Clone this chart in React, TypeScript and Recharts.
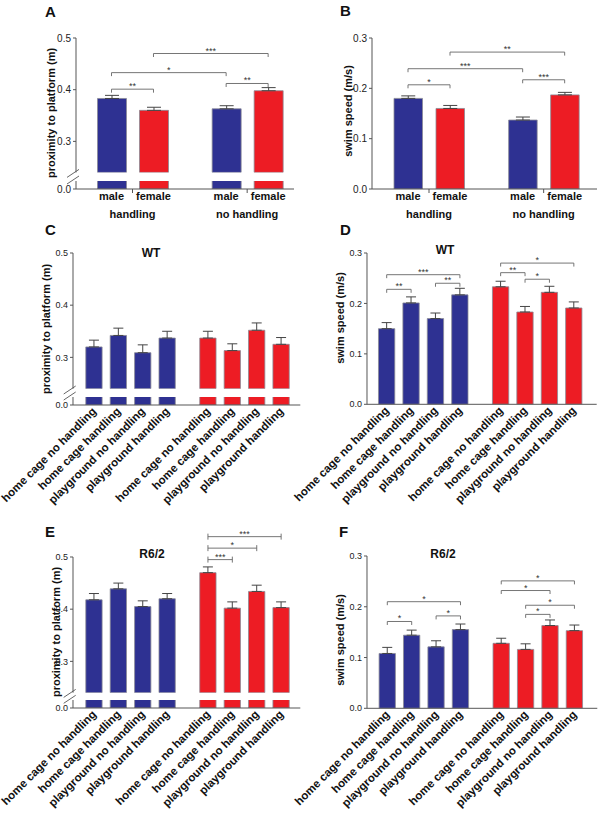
import React from 'react';
import { BarChart, Bar, XAxis, YAxis, ErrorBar, ReferenceLine, Cell } from 'recharts';

const BLUE = '#2e3192';
const RED = '#ed1c24';
const AXIS = '#555';
const FONT = '"Liberation Sans", Arial, Helvetica, sans-serif';

// panels A and B
const sexNames = ['male', 'female', 'male', 'female'];
const handlingGroups = ['handling', 'no handling'];
const sexColors = [BLUE, RED, BLUE, RED];
const proxSex = [0.383, 0.36, 0.363, 0.398];
const proxSexErr = [0.006, 0.006, 0.006, 0.006];
const speedSex = [0.18, 0.16, 0.137, 0.187];
const speedSexErr = [0.005, 0.006, 0.006, 0.005];

// panels C-F
const housing = ['home cage no handling', 'home cage handling', 'playground no handling', 'playground handling'];
const housingNames = [...housing, ...housing];
const housingColors = [BLUE, BLUE, BLUE, BLUE, RED, RED, RED, RED];
const proxWT = [0.32, 0.342, 0.309, 0.337, 0.337, 0.313, 0.352, 0.325];
const proxWTErr = [0.013, 0.014, 0.015, 0.013, 0.013, 0.013, 0.014, 0.013];
const speedWT = [0.15, 0.201, 0.17, 0.217, 0.233, 0.183, 0.222, 0.191];
const speedWTErr = [0.012, 0.012, 0.011, 0.013, 0.011, 0.011, 0.012, 0.012];
const proxR62 = [0.418, 0.439, 0.405, 0.42, 0.47, 0.402, 0.434, 0.403];
const proxR62Err = [0.012, 0.011, 0.011, 0.01, 0.011, 0.012, 0.012, 0.011];
const speedR62 = [0.108, 0.144, 0.121, 0.155, 0.128, 0.116, 0.163, 0.153];
const speedR62Err = [0.012, 0.01, 0.012, 0.011, 0.01, 0.011, 0.011, 0.011];

// significance brackets: [from bar, to bar, height, stars]
const sigA = [[0, 1, 0.401, '**'], [0, 2, 0.433, '*'], [2, 3, 0.412, '**'], [1, 3, 0.47, '***']];
const sigB = [[0, 1, 0.207, '*'], [0, 2, 0.239, '***'], [2, 3, 0.217, '***'], [1, 3, 0.272, '**']];
const sigD = [[0, 1, 0.228, '**'], [0, 3, 0.257, '***'], [2, 3, 0.24, '**'], [4, 7, 0.28, '*'], [4, 5, 0.261, '**'], [5, 6, 0.248, '*']];
const sigE = [[4, 5, 0.495, '***'], [4, 6, 0.517, '*'], [4, 7, 0.539, '***']];
const sigF = [[0, 1, 0.171, '*'], [0, 3, 0.21, '*'], [2, 3, 0.182, '*'], [4, 7, 0.251, '*'], [4, 6, 0.232, '*'], [5, 7, 0.203, '*'], [5, 6, 0.185, '*']];

type Row = { pos: number; name: string; value: number; err: number[]; fill: string };

const makeRows = (names: string[], values: number[], errs: number[], colors: string[], gap: number): Row[] =>
  values.map((v, i) => ({
    pos: i + (i >= values.length / 2 ? gap : 0),
    name: names[i],
    value: v,
    err: [0, errs[i]],
    fill: colors[i],
  }));

const sexTick = (rows: Row[]) => (props: any) => {
  const { x, y, payload } = props;
  const row = rows.find((r) => Math.abs(r.pos - payload.value) < 1e-6);
  if (row) {
    return (
      <text x={x} y={y + 11} textAnchor="middle" fontSize={11} fontWeight="bold" fill="#111">
        {row.name}
      </text>
    );
  }
  const g = payload.value < rows[2].pos ? 0 : 1;
  return (
    <g>
      <line x1={x} x2={x} y1={y} y2={y + 4} stroke={AXIS} />
      <text x={x} y={y + 29} textAnchor="middle" fontSize={11} fontWeight="bold" fill="#111">
        {handlingGroups[g]}
      </text>
    </g>
  );
};

const rotTick = (rows: Row[]) => (props: any) => {
  const { x, y, payload } = props;
  const row = rows.find((r) => Math.abs(r.pos - payload.value) < 1e-6);
  const tx = x + 3;
  const ty = y + 7;
  return (
    <text x={tx} y={ty} transform={`rotate(-45 ${tx} ${ty})`} textAnchor="end" fontSize={11.5} fontWeight="bold" fill="#111">
      {row ? row.name : ''}
    </text>
  );
};

function Plot(p: any) {
  const W = 40;
  const extraL = 40;
  const mTop = p.padTop ?? 4;
  const xH = p.hideX ? 0 : p.xHeight;
  const plotW = p.xEnd - p.axisX;
  const plotH = p.bottom - p.top;
  const rows: Row[] = p.rows;
  return (
    <div style={{ position: 'absolute', left: p.axisX - W - extraL, top: p.top - mTop }}>
      <BarChart
        width={extraL + W + plotW + 4}
        height={mTop + plotH + xH + 2}
        data={rows}
        margin={{ top: mTop, right: 4, bottom: 2, left: extraL }}
      >
        <XAxis
          dataKey="pos"
          type="number"
          domain={p.xDomain}
          allowDataOverflow
          hide={p.hideX}
          ticks={p.xTicks}
          interval={0}
          tick={p.tick}
          tickLine={false}
          tickSize={0}
          tickMargin={0}
          height={xH}
          stroke={AXIS}
        />
        <YAxis
          width={W}
          type="number"
          domain={p.yDomain}
          ticks={p.yTicks}
          interval={0}
          allowDataOverflow
          tickSize={3}
          tickMargin={2}
          tickFormatter={(v: number) => v.toFixed(1)}
          tick={{ fontSize: p.tickFont, fill: '#222' }}
          stroke={AXIS}
        />
        <Bar dataKey="value" barSize={p.barSize} isAnimationActive={false} stroke="#8a8a96" strokeWidth={0.8}>
          {rows.map((r, i) => (
            <Cell key={i} fill={r.fill} />
          ))}
          {p.capW ? <ErrorBar dataKey="err" width={p.capW} stroke="#444" strokeWidth={1} direction="y" /> : null}
        </Bar>
        {(p.sig ?? []).map((s: any, k: number) => (
          <ReferenceLine
            key={k}
            segment={[
              { x: rows[s[0]].pos, y: s[2] },
              { x: rows[s[1]].pos, y: s[2] },
            ]}
            ifOverflow="visible"
            stroke="#666"
            shape={(l: any) => (
              <path
                d={
                  p.bothTicks
                    ? `M${l.x1},${l.y1 - 3}V${l.y1 + 3}M${l.x1},${l.y1}H${l.x2}M${l.x2},${l.y2 - 3}V${l.y2 + 3}`
                    : `M${l.x1},${l.y1 + 3.5}V${l.y1}H${l.x2}V${l.y2 + 3.5}`
                }
                fill="none"
                stroke="#666"
                strokeWidth={0.9}
              />
            )}
            label={{ value: s[3], position: 'top', offset: 0, fontSize: 9, fill: '#333' }}
          />
        ))}
      </BarChart>
    </div>
  );
}

function Panel(p: any) {
  const { lay, rows } = p;
  const xDomain = [(lay.axisX - lay.c0) / lay.unit, (lay.xEnd - lay.c0) / lay.unit];
  const isSex = p.kind === 'sex';
  const centers = isSex ? [(rows[0].pos + rows[1].pos) / 2, (rows[2].pos + rows[3].pos) / 2] : [];
  const xTicks = [...rows.map((r: Row) => r.pos), ...centers];
  const tick = isSex ? sexTick(rows) : rotTick(rows);
  const xHeight = isSex ? 36 : 112;
  const common = { rows, xDomain, axisX: lay.axisX, xEnd: lay.xEnd, barSize: lay.barSize, tickFont: p.tickFont };
  if (lay.lowTop) {
    return (
      <>
        <Plot {...common} top={lay.top} bottom={lay.bottom} yDomain={p.yDomain} yTicks={p.yTicks} hideX
          sig={p.sig} bothTicks={p.bothTicks} capW={lay.capW} padTop={34} />
        <Plot {...common} top={lay.lowTop} bottom={lay.lowBottom} yDomain={[0, 0.02]} yTicks={[0]}
          xTicks={xTicks} tick={tick} xHeight={xHeight} padTop={2} />
      </>
    );
  }
  return (
    <Plot {...common} top={lay.top} bottom={lay.bottom} yDomain={p.yDomain} yTicks={p.yTicks}
      xTicks={xTicks} tick={tick} xHeight={xHeight} sig={p.sig} bothTicks={p.bothTicks} capW={lay.capW} padTop={34} />
  );
}

const layA = { axisX: 76, xEnd: 294, c0: 111.5, unit: 42, top: 38, bottom: 172.4, lowTop: 181, lowBottom: 189, barSize: 29, capW: 7 };
const layB = { axisX: 372, xEnd: 597, c0: 408, unit: 42, top: 38, bottom: 189, barSize: 28.5, capW: 7 };
const layC = { axisX: 72.7, xEnd: 300, c0: 93.7, unit: 24.4, top: 253.3, bottom: 389, lowTop: 397, lowBottom: 405, barSize: 16.3, capW: 5 };
const layD = { axisX: 367.3, xEnd: 597, c0: 387, unit: 24.4, top: 253, bottom: 404.3, barSize: 16.3, capW: 5 };
const layE = { axisX: 72.7, xEnd: 300, c0: 93.7, unit: 24.4, top: 556.7, bottom: 692.4, lowTop: 700.3, lowBottom: 708.3, barSize: 16.3, capW: 5 };
const layF = { axisX: 366.7, xEnd: 597, c0: 387, unit: 24.4, top: 555.7, bottom: 708, barSize: 16.3, capW: 5 };

const letters = [['A', 45, 17], ['B', 340, 16], ['C', 45, 235], ['D', 340, 235], ['E', 45, 537], ['F', 339, 537]];
const titles = [['WT', 151, 257], ['WT', 445, 254], ['R6/2', 152, 557.5], ['R6/2', 443, 557.5]];
const yTitles = [
  ['proximity to platform (m)', 51, 113],
  ['swim speed (m/s)', 348, 111],
  ['proximity to platform (m)', 46, 329],
  ['swim speed (m/s)', 340, 318],
  ['proximity to platform (m)', 56, 632],
  ['swim speed (m/s)', 340, 640],
];

function BreakMark({ ax, b, l }: { ax: number; b: number; l: number }) {
  return (
    <g stroke={AXIS} strokeWidth={0.9}>
      <line x1={ax - 9} y1={b + 5} x2={ax + 3} y2={b - 3} />
      <line x1={ax - 9} y1={l + 3} x2={ax + 3} y2={l - 5} />
    </g>
  );
}

export default function App() {
  const rowsA = makeRows(sexNames, proxSex, proxSexErr, sexColors, 0.73);
  const rowsB = makeRows(sexNames, speedSex, speedSexErr, sexColors, 0.73);
  const rowsC = makeRows(housingNames, proxWT, proxWTErr, housingColors, 0.67);
  const rowsD = makeRows(housingNames, speedWT, speedWTErr, housingColors, 0.67);
  const rowsE = makeRows(housingNames, proxR62, proxR62Err, housingColors, 0.67);
  const rowsF = makeRows(housingNames, speedR62, speedR62Err, housingColors, 0.67);
  return (
    <div style={{ position: 'absolute', left: 0, top: 0, width: 603, height: 813, background: '#fff', fontFamily: FONT, overflow: 'hidden' }}>
      <Panel kind="sex" rows={rowsA} lay={layA} yDomain={[0.24, 0.5]} yTicks={[0.3, 0.4, 0.5]} sig={sigA} tickFont={10} />
      <Panel kind="sex" rows={rowsB} lay={layB} yDomain={[0, 0.3]} yTicks={[0, 0.1, 0.2, 0.3]} sig={sigB} tickFont={10} />
      <Panel kind="rot" rows={rowsC} lay={layC} yDomain={[0.24, 0.5]} yTicks={[0.3, 0.4, 0.5]} sig={[]} tickFont={9} />
      <Panel kind="rot" rows={rowsD} lay={layD} yDomain={[0, 0.3]} yTicks={[0, 0.1, 0.2, 0.3]} sig={sigD} tickFont={9} />
      <Panel kind="rot" rows={rowsE} lay={layE} yDomain={[0.24, 0.5]} yTicks={[0.3, 0.4, 0.5]} sig={sigE} bothTicks tickFont={9} />
      <Panel kind="rot" rows={rowsF} lay={layF} yDomain={[0, 0.3]} yTicks={[0, 0.1, 0.2, 0.3]} sig={sigF} tickFont={9} />
      <svg width={603} height={813} style={{ position: 'absolute', left: 0, top: 0, pointerEvents: 'none' }}>
        {letters.map(([t, x, y]: any) => (
          <text key={t} x={x} y={y} fontSize={15} fontWeight="bold" fill="#111">{t}</text>
        ))}
        {titles.map(([t, x, y]: any, i) => (
          <text key={i} x={x} y={y} fontSize={12} fontWeight="bold" textAnchor="middle" fill="#111">{t}</text>
        ))}
        {yTitles.map(([t, x, y]: any, i) => (
          <text key={i} transform={`translate(${x},${y}) rotate(-90)`} fontSize={11} fontWeight="bold" textAnchor="middle" dominantBaseline="central" fill="#111">
            {t}
          </text>
        ))}
        <BreakMark ax={layA.axisX} b={layA.bottom} l={layA.lowTop} />
        <BreakMark ax={layC.axisX} b={layC.bottom} l={layC.lowTop} />
        <BreakMark ax={layE.axisX} b={layE.bottom} l={layE.lowTop} />
      </svg>
    </div>
  );
}
